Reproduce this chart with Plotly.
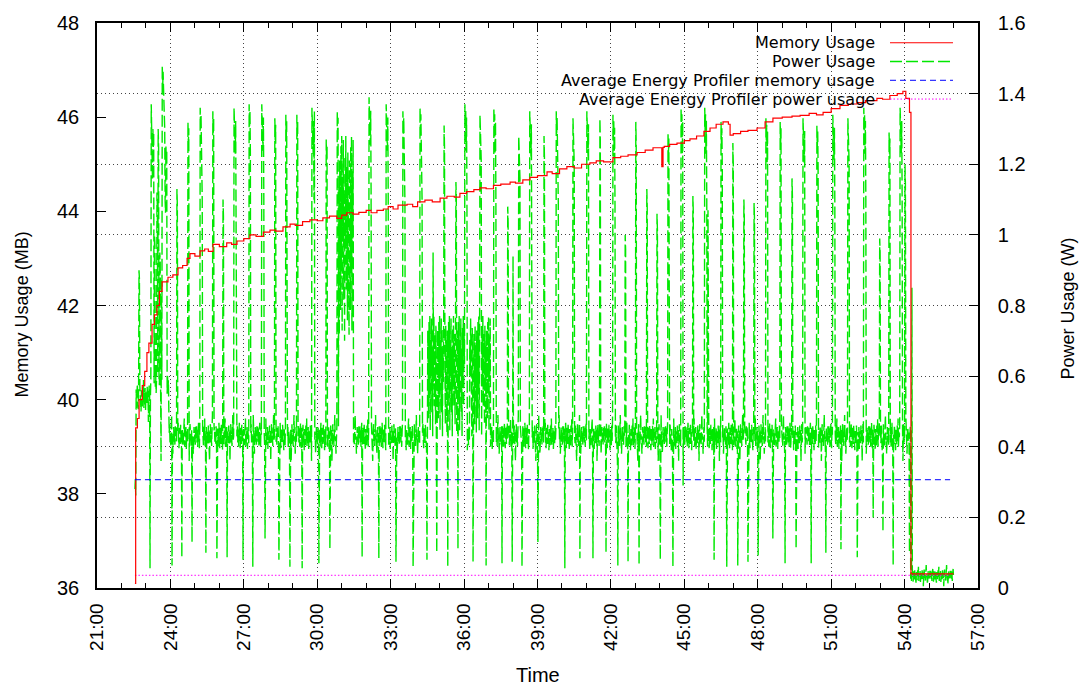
import plotly.graph_objects as go

# ---------------- data ----------------
# memory usage, MB (step line), time in minutes
mem_time = [22.55, 22.58, 22.65, 22.72, 22.85, 22.95, 23.04, 23.12, 23.25, 23.35, 23.45, 23.55,
            23.66, 23.90, 24.10, 24.31, 24.50, 24.68, 24.80, 25.00, 25.21, 25.40, 25.55, 25.74,
            26.00, 26.30, 26.50, 26.72, 27.00, 27.25, 27.50, 27.80, 28.07, 28.30, 28.60, 28.89,
            29.10, 29.40, 29.70, 30.00, 30.23, 30.50, 30.80, 31.00, 31.20, 31.46, 31.70, 32.00,
            32.20, 32.44, 32.70, 32.90, 33.10, 33.30, 33.67, 33.90, 34.10, 34.40, 34.70, 35.02,
            35.30, 35.60, 35.83, 36.10, 36.40, 36.65, 36.90, 37.20, 37.50, 37.88, 38.10, 38.40,
            38.69, 39.00, 39.39, 39.60, 39.90, 40.20, 40.50, 40.80, 41.14, 41.40, 41.70, 42.08,
            42.40, 42.70, 43.07, 43.40, 43.72, 44.08, 44.13, 44.18, 44.40, 44.70, 45.00, 45.23,
            45.50, 45.80, 46.05, 46.30, 46.58, 46.80, 46.87, 47.00, 47.30, 47.60, 47.97, 48.30,
            48.62, 49.00, 49.40, 49.73, 50.10, 50.40, 50.67, 51.00, 51.36, 51.70, 52.06, 52.40,
            52.87, 53.10, 53.40, 53.70, 53.93, 54.05, 54.20, 54.26, 56.00]
mem_mb = [36.10, 39.40, 39.60, 40.00, 40.30, 40.60, 41.00, 41.20, 41.60, 41.80, 42.00, 42.30,
          42.50, 42.60, 42.65, 42.80, 42.85, 43.00, 43.10, 43.05, 43.16, 43.20, 43.15, 43.30,
          43.25, 43.33, 43.30, 43.37, 43.42, 43.50, 43.47, 43.56, 43.60, 43.58, 43.67, 43.73,
          43.70, 43.78, 43.82, 43.80, 43.86, 43.90, 43.85, 43.92, 43.97, 43.94, 43.98, 44.02,
          43.97, 44.02, 44.05, 44.10, 44.05, 44.13, 44.15, 44.10, 44.20, 44.24, 44.20, 44.28,
          44.32, 44.30, 44.38, 44.42, 44.46, 44.50, 44.48, 44.55, 44.58, 44.62, 44.60, 44.67,
          44.72, 44.76, 44.84, 44.80, 44.90, 44.95, 44.92, 45.00, 45.03, 45.07, 45.05, 45.14,
          45.17, 45.20, 45.25, 45.30, 45.35, 44.95, 45.36, 45.38, 45.42, 45.45, 45.50, 45.54,
          45.60, 45.70, 45.77, 45.85, 45.90, 45.85, 45.62, 45.65, 45.70, 45.72, 45.77, 45.90,
          45.98, 46.00, 46.02, 46.04, 46.08, 46.05, 46.10, 46.18, 46.25, 46.28, 46.31, 46.35,
          46.40, 46.38, 46.46, 46.50, 46.55, 46.40, 46.10, 36.30, 36.30]

# power usage, W (sampled once a second)
power_start = 22.55
power_end = 56.0
samples_per_min = 60
level_start = [22.55, 22.60, 23.15, 23.95, 54.25]
level_value = [0.28, 0.54, 0.57, 0.43, 0.035]
jitter = [0.000, 0.028, -0.018, 0.022, -0.030, 0.010, 0.038, -0.012, -0.034, 0.024,
          0.004, -0.022, 0.032, -0.008, 0.016, -0.040, 0.020, 0.006, -0.026, 0.030,
          -0.014, 0.050, -0.030, 0.012, -0.004, 0.026, -0.036, 0.014, 0.002, -0.020,
          0.030, -0.010, 0.018, -0.070, 0.010, 0.034, -0.018, 0.006, -0.028, 0.022,
          0.060, -0.010, 0.000, -0.050, 0.016, 0.026, -0.016, 0.010, -0.024, 0.028]
spike_time = [22.72, 23.21, 23.25, 23.29, 23.35, 23.45, 23.50, 23.57, 23.62, 23.66,
              23.72, 23.78, 23.82, 24.27, 24.72,
              25.21, 25.74, 26.15, 26.60, 27.21, 27.74, 28.27, 28.72, 29.17, 29.79,
              30.36, 30.81, 32.11, 32.81, 33.50, 34.20, 34.73, 35.18, 35.67, 36.04,
              36.65, 37.22, 37.79, 38.00, 38.24, 38.69, 39.27, 39.76, 40.45, 41.02,
              41.55, 42.08, 42.58, 43.02, 43.47, 43.88, 44.33, 44.86, 45.35, 45.84,
              45.97, 46.50, 46.99, 47.44, 47.85, 48.34, 48.91, 49.40, 49.85, 50.42,
              51.07, 51.69, 52.34, 52.99, 53.36, 53.81, 54.02, 54.30]
spike_peak = [0.90, 1.37, 1.20, 1.30, 1.00, 1.12, 1.30, 0.95, 0.90, 1.48,
              1.42, 1.10, 1.25, 1.13, 1.32,
              1.36, 1.35, 1.10, 1.36, 1.37, 1.37, 1.33, 1.34, 1.34, 1.36,
              1.27, 1.35, 1.39, 1.37, 1.35, 1.36, 0.95, 1.31, 1.15, 1.37,
              1.34, 1.36, 1.08, 0.94, 1.28, 1.35, 1.28, 1.35, 1.33, 1.35,
              1.33, 1.34, 1.00, 1.32, 1.13, 1.06, 1.29, 1.36, 1.11, 1.36,
              1.07, 1.32, 1.26, 1.10, 1.09, 1.33, 1.32, 1.16, 1.33, 1.31,
              1.34, 1.33, 1.36, 0.99, 1.29, 1.36, 1.20, 0.85]
spike_width = [2, 3, 2, 3, 2, 2, 2, 2, 2, 3,
               4, 2, 3, 2, 3,
               6, 3, 2, 6, 4, 6, 3, 3, 3, 7,
               3, 3, 6, 6, 6, 6, 1, 2, 2, 6,
               4, 6, 2, 1, 4, 5, 2, 6, 4, 5,
               2, 6, 2, 2, 2, 2, 3, 6, 2, 6,
               1, 4, 2, 2, 2, 5, 3, 2, 5, 4,
               6, 4, 6, 2, 3, 6, 2, 1]
spike_shape = [1.0, 0.93, 0.98, 0.86, 0.96, 0.72, 0.99, 0.62]
dip_time = [23.17, 23.62, 24.06, 24.47, 24.88, 25.45, 25.90, 26.31, 26.97, 27.37,
            27.86, 28.44, 28.89, 29.38, 30.07, 30.52, 31.83, 32.52, 33.22, 33.91,
            34.48, 34.89, 35.34, 35.75, 36.36, 36.90, 37.55, 37.96, 38.37, 39.02,
            40.12, 40.74, 41.27, 41.80, 42.29, 42.70, 43.15, 44.01, 44.54, 44.95,
            46.21, 46.74, 47.19, 47.60, 48.01, 48.62, 49.11, 49.56, 50.18, 50.79,
            51.40, 52.06, 52.71, 53.12, 53.53, 54.20]
dip_low = [0.056, 0.36, 0.064, 0.087, 0.13, 0.10, 0.084, 0.087, 0.08, 0.06,
           0.14, 0.08, 0.06, 0.056, 0.07, 0.11, 0.087, 0.084, 0.074, 0.06,
           0.08, 0.10, 0.06, 0.11, 0.074, 0.064, 0.07, 0.074, 0.06, 0.13,
           0.056, 0.084, 0.084, 0.10, 0.064, 0.074, 0.064, 0.08, 0.06, 0.29,
           0.08, 0.06, 0.064, 0.074, 0.092, 0.14, 0.07, 0.11, 0.07, 0.10,
           0.11, 0.087, 0.20, 0.16, 0.064, 0.10]
burst_start = [30.89, 34.50, 36.24]
burst_end = [31.46, 36.02, 37.06]
burst_low = [0.70, 0.43, 0.43]
burst_high = [1.28, 0.77, 0.77]
burst_pattern = [0.15, 0.95, 0.35, 1.0, 0.05, 0.8, 0.5, 0.98, 0.2, 0.7, 0.0, 0.9,
                 0.45, 1.0, 0.25, 0.85, 0.6, 0.1, 0.92, 0.4, 0.75, 0.03, 0.88, 0.55]

# profiler averages
avg_time = [22.55, 55.86]
avg_memory_mb = 38.3
avg_power_w = 0.036

x_tick_vals = [21, 24, 27, 30, 33, 36, 39, 42, 45, 48, 51, 54, 57]
x_tick_text = ["21:00", "24:00", "27:00", "30:00", "33:00", "36:00", "39:00",
               "42:00", "45:00", "48:00", "51:00", "54:00", "57:00"]

# ---------------- build the power series from the read events ----------------
n = int(round((power_end - power_start) * samples_per_min)) + 1
p_t = [power_start + i / samples_per_min for i in range(n)]
base = []
for t in p_t:
    lvl = level_value[0]
    for s, v in zip(level_start, level_value):
        if t >= s - 1e-9:
            lvl = v
    base.append(lvl)
p_w = []
for i, b in enumerate(base):
    j = jitter[i % len(jitter)]
    if b < 0.1:
        j *= 0.5
    p_w.append(b + j)


def idx(t):
    return max(0, min(n - 1, int(round((t - power_start) * samples_per_min))))


for bs, be, lo, hi in zip(burst_start, burst_end, burst_low, burst_high):
    for i in range(idx(bs), idx(be) + 1):
        p_w[i] = lo + (hi - lo) * burst_pattern[i % len(burst_pattern)]
for ts, pk, w in zip(spike_time, spike_peak, spike_width):
    k = idx(ts)
    for j in range(w):
        if k + j < n:
            p_w[k + j] = base[k + j] + (pk - base[k + j]) * spike_shape[j]
for td, lo in zip(dip_time, dip_low):
    p_w[idx(td)] = lo
p_w = [max(0.005, v) for v in p_w]

# ---------------- figure ----------------
FONT = "Liberation Sans, Arial, sans-serif"
LEGEND_FONT = "DejaVu Sans, Liberation Sans, sans-serif"
GREEN = "rgb(0,232,0)"

fig = go.Figure()
fig.add_trace(go.Scatter(x=p_t, y=p_w, mode="lines", yaxis="y",
                         line=dict(color=GREEN, width=1.4, dash="12px,4px"),
                         name="Power Usage", showlegend=False))
fig.add_trace(go.Scatter(x=avg_time, y=[avg_power_w, avg_power_w], mode="lines", yaxis="y",
                         line=dict(color="#ff00ff", width=1, dash="1.5px,2px"),
                         name="Average Energy Profiler power usage", showlegend=False))
fig.add_trace(go.Scatter(x=mem_time, y=mem_mb, mode="lines", yaxis="y2",
                         line=dict(color="#ff0000", width=1.2, shape="hv"),
                         name="Memory Usage", showlegend=False))
fig.add_trace(go.Scatter(x=avg_time, y=[avg_memory_mb, avg_memory_mb], mode="lines", yaxis="y2",
                         line=dict(color="#0000ff", width=1, dash="6px,4px"),
                         name="Average Energy Profiler memory usage", showlegend=False))


def px_x(px):
    return (px - 97) / 881


def px_y(py):
    return (588 - py) / 572


legend_items = [("Memory Usage", 36, "#ff0000", "solid", 1.2),
                ("Power Usage", 55, GREEN, "12px,4px", 1.4),
                ("Average Energy Profiler memory usage", 74, "#0000ff", "6px,4px", 1),
                ("Average Energy Profiler power usage", 93, "#ff00ff", "1.5px,2px", 1)]

shapes = [dict(type="rect", xref="paper", yref="paper", x0=px_x(400), x1=px_x(965),
               y0=px_y(103), y1=1, fillcolor="white", line=dict(width=0), layer="between")]
annotations = []
for label, py, col, dash, w in legend_items:
    annotations.append(dict(text=label, xref="paper", yref="paper", x=px_x(877), y=px_y(py),
                            xanchor="right", yanchor="middle", showarrow=False,
                            font=dict(family=LEGEND_FONT, size=16, color="black")))
    shapes.append(dict(type="line", xref="paper", yref="paper", x0=px_x(890), x1=px_x(953),
                       y0=px_y(py), y1=px_y(py), line=dict(color=col, width=w, dash=dash),
                       layer="above"))

annotations += [
    dict(text="Memory Usage (MB)", xref="paper", yref="paper", x=px_x(22), y=px_y(311),
         textangle=-90, showarrow=False, xanchor="center", yanchor="middle",
         font=dict(family=FONT, size=18, color="black")),
    dict(text="Power Usage (W)", xref="paper", yref="paper", x=px_x(1068), y=px_y(305),
         textangle=-90, showarrow=False, xanchor="center", yanchor="middle",
         font=dict(family=FONT, size=18, color="black")),
    dict(text="Time", xref="paper", yref="paper", x=px_x(538), y=px_y(676),
         showarrow=False, xanchor="center", yanchor="middle",
         font=dict(family=FONT, size=20, color="black")),
]

grid_style = dict(gridcolor="#444444", gridwidth=1, griddash="1px,3px")

fig.update_layout(
    width=1082, height=686,
    margin=dict(l=97, r=104, t=16, b=98),
    plot_bgcolor="white", paper_bgcolor="white",
    font=dict(family=FONT, size=18, color="black"),
    showlegend=False,
    shapes=shapes, annotations=annotations,
    xaxis=dict(range=[21, 57], tickvals=x_tick_vals, ticktext=x_tick_text, tickangle=-90,
               ticks="inside", ticklen=9, tickwidth=1, tickcolor="black",
               minor=dict(dtick=1, tick0=21, ticks="inside", ticklen=5, tickcolor="black", showgrid=False),
               showline=True, linecolor="black", linewidth=1.5, mirror="ticks",
               showgrid=True, zeroline=False, ticklabelstandoff=6,
               tickfont=dict(family=FONT, size=19), **grid_style),
    yaxis=dict(range=[0, 1.6], tickvals=[0, 0.2, 0.4, 0.6, 0.8, 1, 1.2, 1.4, 1.6],
               ticktext=["0", "0.2", "0.4", "0.6", "0.8", "1", "1.2", "1.4", "1.6"],
               side="right", ticks="inside", ticklen=9, tickcolor="black",
               showline=True, linecolor="black", linewidth=1.5, showgrid=True,
               zeroline=False, ticklabelstandoff=14, tickfont=dict(family=FONT, size=20),
               **grid_style),
    yaxis2=dict(range=[36, 48], tickvals=[36, 38, 40, 42, 44, 46, 48], overlaying="y",
                side="left", ticks="inside", ticklen=9, tickcolor="black",
                showline=True, linecolor="black", linewidth=1.5, showgrid=False,
                zeroline=False, ticklabelstandoff=12, tickfont=dict(family=FONT, size=20)),
    yaxis3=dict(range=[0, 1.6], tickvals=[0.2, 0.4, 0.6, 0.8, 1, 1.2, 1.4], overlaying="y",
                side="left", anchor="x", ticks="inside", ticklen=5, tickcolor="black",
                showticklabels=False, showgrid=False, showline=False, zeroline=False),
)

fig.write_html("out.html")
